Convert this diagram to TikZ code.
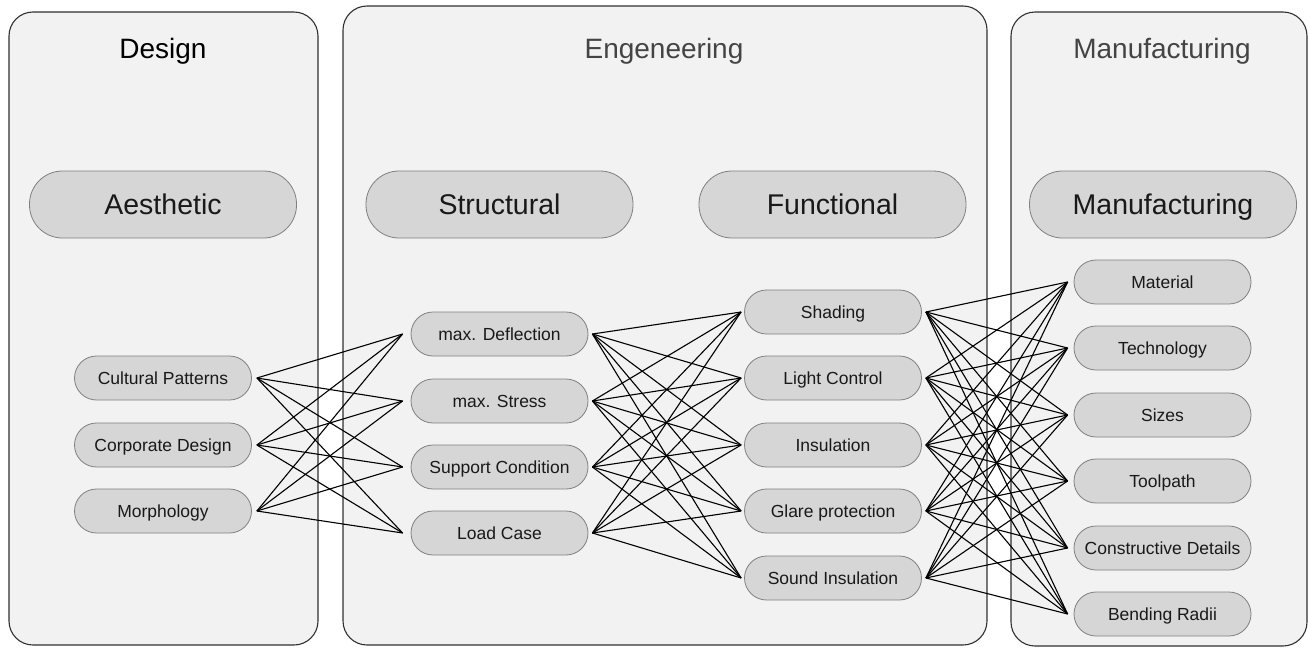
\documentclass[tikz,border=0pt]{standalone}
\usepackage{fontspec}
\setmainfont{Liberation Sans}
\definecolor{panelfill}{HTML}{F2F2F2}
\definecolor{panelline}{HTML}{303030}
\definecolor{pillfill}{HTML}{D6D6D6}
\definecolor{pillline}{HTML}{808080}
\definecolor{titlegray}{HTML}{444444}
\tikzset{
  panel/.style={draw=panelline, fill=panelfill, line width=1.1pt, rounded corners=24pt},
  ptitle/.style={font=\fontsize{28}{32}\selectfont, inner sep=0pt, text height=20pt, text depth=0pt},
  catpill/.style={draw=pillline, fill=pillfill, line width=0.8pt, rounded corners=33pt,
    minimum width=267pt, minimum height=67pt, inner sep=0pt, text height=20.4pt, text depth=0pt,
    font=\fontsize{28.5}{32}\selectfont, text=black!90},
  pill/.style={draw=pillline, fill=pillfill, line width=0.8pt, rounded corners=22pt,
    minimum width=177pt, minimum height=44pt, inner sep=0pt, text height=12.6pt, text depth=0pt,
    font=\fontsize{17.5}{20}\selectfont, text=black!90},
  link/.style={draw=black, line width=1.1pt}
}
\begin{document}
\begin{tikzpicture}[x=1pt,y=-1pt]
\useasboundingbox (0,0) rectangle (1309,648);
% panels
\draw[panel] (9,12) rectangle (318,645);
\draw[panel] (343,6) rectangle (987,645);
\draw[panel] (1011,12) rectangle (1307,646);
% titles
\node[ptitle, text=black] (tdes) at (163,48) {Design};
\node[ptitle, text=titlegray] (teng) at (664,48) {Engeneering};
\node[ptitle, text=titlegray] (tman) at (1162,48) {Manufacturing};
% category pills
\node[catpill] (aes) at (163,204.5) {Aesthetic};
\node[catpill] (str) at (499.5,204.5) {Structural};
\node[catpill] (fun) at (832.5,204.5) {Functional};
\node[catpill] (man) at (1163,204.5) {Manufacturing};
% design column
\node[pill] (d1) at (163,378) {Cultural Patterns};
\node[pill] (d2) at (163,445) {Corporate Design};
\node[pill] (d3) at (163,511) {Morphology};
% structural column
\node[pill] (s1) at (499.5,334) {max. Deflection};
\node[pill] (s2) at (499.5,401) {max. Stress};
\node[pill] (s3) at (499.5,467) {Support Condition};
\node[pill] (s4) at (499.5,533) {Load Case};
% functional column
\node[pill] (f1) at (833,312) {Shading};
\node[pill] (f2) at (833,378) {Light Control};
\node[pill] (f3) at (833,445) {Insulation};
\node[pill] (f4) at (833,511) {Glare protection};
\node[pill] (f5) at (833,578) {Sound Insulation};
% manufacturing column
\node[pill] (m1) at (1162.5,282) {Material};
\node[pill] (m2) at (1162.5,348) {Technology};
\node[pill] (m3) at (1162.5,415) {Sizes};
\node[pill] (m4) at (1162.5,481) {Toolpath};
\node[pill] (m5) at (1162.5,548) {Constructive Details};
\node[pill] (m6) at (1162.5,614) {Bending Radii};
% links
\foreach \a in {d1,d2,d3}{
  \foreach \b in {s1,s2,s3,s4}{
    \draw[link] ([xshift=5pt]\a.east) -- ([xshift=-8pt]\b.west);
  }
}
\foreach \a in {s1,s2,s3,s4}{
  \foreach \b in {f1,f2,f3,f4,f5}{
    \draw[link] ([xshift=4pt]\a.east) -- ([xshift=-3pt]\b.west);
  }
}
\foreach \a in {f1,f2,f3,f4,f5}{
  \foreach \b in {m1,m2,m3,m4,m5,m6}{
    \draw[link] ([xshift=4pt]\a.east) -- ([xshift=-6pt]\b.west);
  }
}
\end{tikzpicture}
\end{document}
